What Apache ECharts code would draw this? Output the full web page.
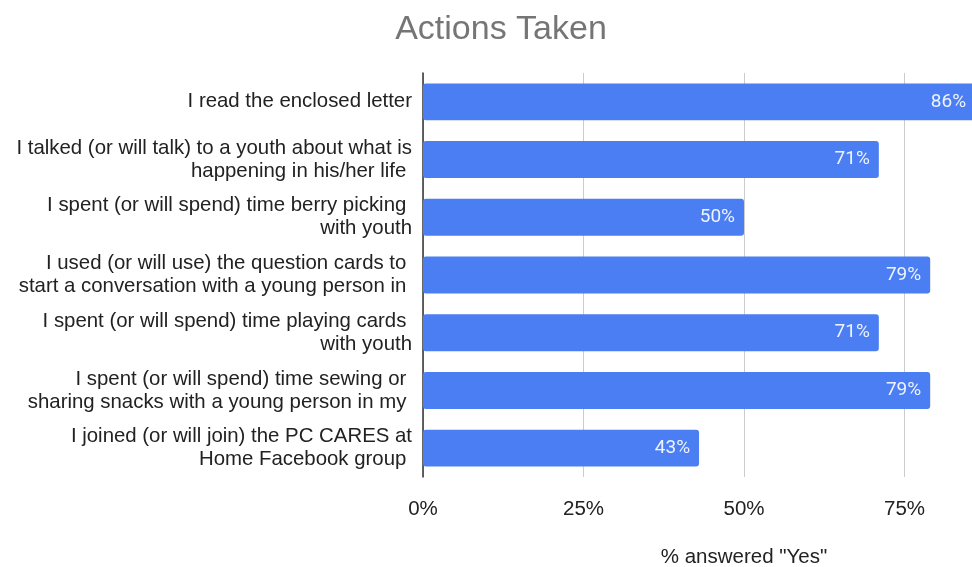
<!DOCTYPE html>
<html><head><meta charset="utf-8">
<script src="https://cdn.jsdelivr.net/npm/echarts@6/dist/echarts.min.js"></script>
<style>html,body{margin:0;padding:0;background:#fff}#c{width:972px;height:567px}</style>
</head><body><div id="c"></div>
<script>
const categories = [
  "I read the enclosed letter",
  "I talked (or will talk) to a youth about what is\nhappening in his/her life ",
  "I spent (or will spend) time berry picking \nwith youth",
  "I used (or will use) the question cards to \nstart a conversation with a young person in ",
  "I spent (or will spend) time playing cards \nwith youth",
  "I spent (or will spend) time sewing or \nsharing snacks with a young person in my ",
  "I joined (or will join) the PC CARES at\nHome Facebook group "
];
const values = [86, 71, 50, 79, 71, 79, 43];
const xTicks = [0, 25, 50, 75, 100];

const chart = echarts.init(document.getElementById('c'), null, {renderer: 'canvas'});
chart.setOption({
  animation: false,
  backgroundColor: '#fff',
  title: {
    text: 'Actions Taken',
    left: 496, top: 8, textAlign: 'center',
    textStyle: {fontFamily: 'Liberation Sans, Arial', fontSize: 34, fontWeight: 'normal', color: '#757575'}
  },
  grid: {left: 423, width: 642, top: 73, height: 404, containLabel: false, outerBoundsMode: 'none'},
  xAxis: {
    type: 'value', min: xTicks[0], max: xTicks[xTicks.length - 1], interval: 25,
    name: '% answered "Yes"', nameLocation: 'middle', nameGap: 70,
    nameTextStyle: {fontFamily: 'Liberation Sans, Arial', fontSize: 20.5, color: '#222'},
    axisLine: {show: false}, axisTick: {show: false},
    axisLabel: {formatter: v => v + '%', margin: 22, fontFamily: 'Liberation Sans, Arial', fontSize: 20.5, color: '#222'},
    splitLine: {show: true, lineStyle: {color: '#cccccc', width: 1}}
  },
  yAxis: {
    type: 'category', data: categories, inverse: true,
    axisLine: {show: true, lineStyle: {color: '#333', width: 1.5}},
    axisTick: {show: false},
    axisLabel: {margin: 11, fontFamily: 'Liberation Sans, Arial', fontSize: 20.4, color: '#222', lineHeight: 23, align: 'right'}
  },
  series: [{
    type: 'bar', data: values, barWidth: '64%',
    itemStyle: {color: '#4a7ef2', borderRadius: 3},
    label: {show: true, position: 'insideRight', distance: 9, formatter: p => p.value + '%',
      fontFamily: 'Roboto', fontSize: 19, color: '#eef3ff'}
  }]
});
</script></body></html>
